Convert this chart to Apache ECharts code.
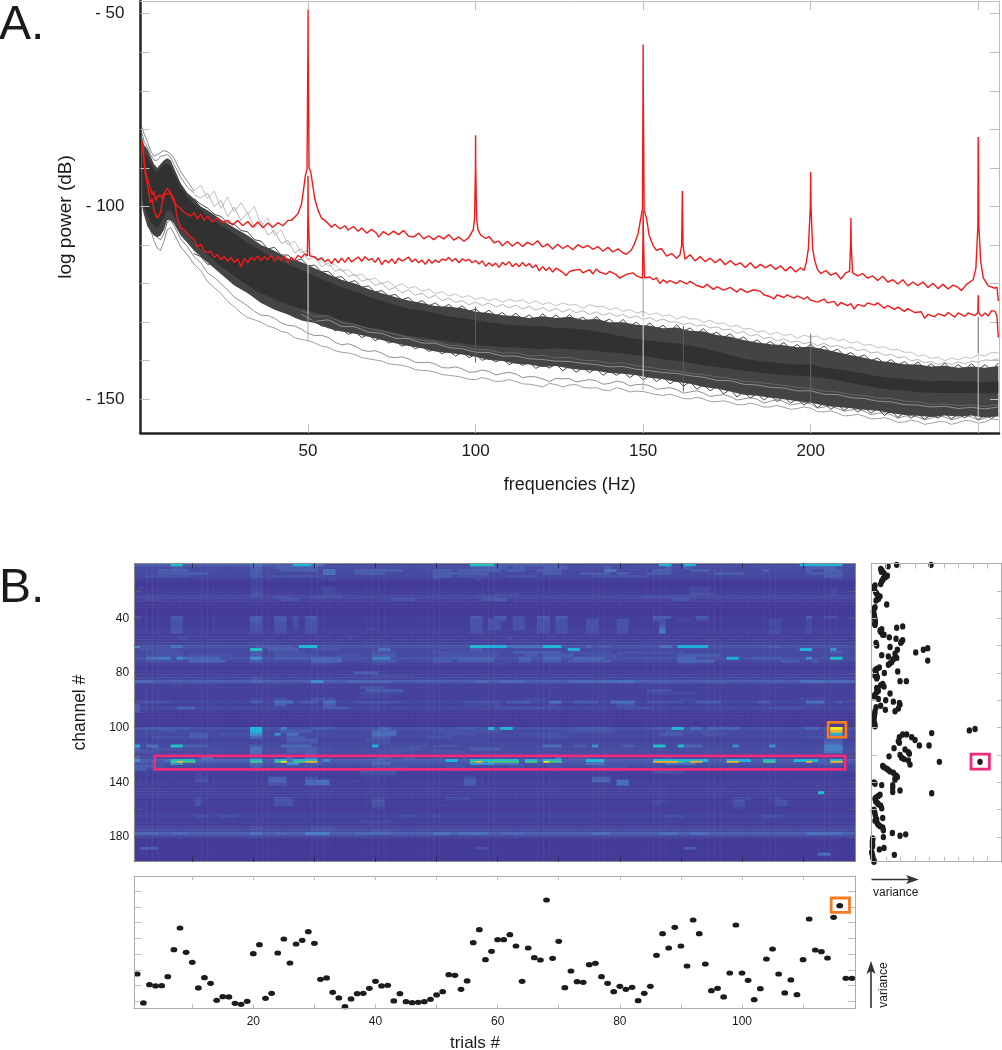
<!DOCTYPE html>
<html><head><meta charset="utf-8"><style>html,body{margin:0;background:#fff}#c{width:1002px;height:1050px}</style>
<script src="https://cdn.jsdelivr.net/npm/echarts@6/dist/echarts.min.js"></script></head><body><div id="c"></div>
<script>
// ---------- panel A data (dB at frequency grid)
const freqGrid=[0.5,1,2,3,4,5,6,7,8,9,10,
12,14,16,18,20,
24,28,32,36,40,44,48,52,56,60,
64,68,72,76,80,84,88,92,96,100,
104,108,112,116,120,124,128,132,136,140,
144,148,152,156,160,164,168,172,176,180,
184,188,192,196,200,204,208,212,216,220,
224,228,232,236,240,244,248,252,256];
const bandHigh=[-82,-84,-85,-87,-89,-90,-89,-88,-87.5,-88,-90,
-94,-96.5,-98,-100,-101,
-103.4,-105.5,-107.5,-110,-111.5,-113.5,-114.4,-116,-117.6,-119,
-120,-121.4,-122.5,-123.5,-124.4,-125,-125.8,-126,-126.4,-127.3,
-127.6,-128.2,-128.4,-128.9,-128.5,-128.9,-128.6,-129.4,-129.2,-130,
-130,-130.7,-130.9,-131.6,-131.4,-132.2,-132.4,-133.3,-133.8,-134.6,
-135.3,-135.7,-136,-136.5,-136.4,-137,-137.8,-138.6,-139.2,-140,
-140.4,-140.9,-141,-141.5,-141.3,-141.8,-141.5,-141.8,-141.4];
const bandLow=[-100,-102,-105,-106.5,-107.5,-108,-107.5,-106,-103.5,-103.5,-104.5,
-107.5,-109.5,-111.5,-113,-114.5,
-117.5,-120.5,-122.5,-125,-126.8,-128,-129.6,-130.2,-131.6,-132.4,
-133,-133.8,-134.6,-135.5,-136.2,-136.8,-137.6,-138,-138.4,-139,
-139.8,-140.1,-140.8,-141,-141.6,-141.4,-142,-142.4,-142.6,-143.2,
-143.4,-143.8,-144.4,-144.8,-145.5,-146,-146.8,-147.3,-148,-148.8,
-149.1,-149.6,-150,-150.5,-150.9,-151.6,-152,-152.3,-152.7,-153,
-153.6,-154.1,-154.3,-154.6,-154.2,-154.5,-154.2,-154.7,-154.4];
const coreHigh=[-84,-86,-87,-89,-90.5,-91,-90,-89,-89,-89.5,-91.5,
-95,-97.5,-99.5,-101,-102.5,
-105,-107,-109.5,-111.5,-113.5,-115,-116.5,-118,-119.5,-121,
-122,-123.5,-124.5,-125.5,-126.5,-127,-127.7,-128.5,-129,-129.5,
-130,-130.5,-130.8,-131,-131,-131.5,-131.6,-132,-132.4,-133,
-133.8,-134.4,-134.8,-135.2,-135.5,-136,-136.8,-137.6,-138.5,-139.5,
-140,-140.4,-140.7,-141,-141,-141.8,-142.2,-142.8,-143.4,-144,
-144.4,-144.7,-145,-145.3,-145.2,-145.4,-145.3,-145.5,-145.4];
const coreLow=[-98,-100,-102,-104,-105,-105.5,-104.5,-102.5,-101,-101,-102.5,
-105.5,-107.5,-109.5,-111,-112.5,
-115.5,-118,-120.5,-122.5,-124,-125.5,-126.5,-127.5,-128.5,-129.5,
-130.5,-131.5,-132,-132.8,-133.5,-134,-134.5,-135,-135.5,-136,
-136.2,-136.5,-136.6,-136.8,-137,-136.8,-137,-137.2,-137.5,-137.8,
-138.1,-138.6,-139,-139.6,-140,-140.6,-141.2,-141.6,-142,-142.6,
-143,-143.4,-143.7,-143.9,-144,-144.5,-145,-145.8,-146.4,-147.1,
-147.5,-147.8,-148.1,-148.3,-148.4,-148.4,-148.4,-148.5,-148.4];
// low-frequency ends of the outlying traces (0.5 - 16 Hz)
const topStart1=[-79.5,-81,-83,-85.5,-87,-86.5,-86,-85.5,-85.8,-86.4,-87.5,-91,-93.5,-96];
const topStart2=[-81,-83,-84.5,-86.5,-88,-88,-87,-86.8,-86.5,-87.2,-89,-92.5,-95,-96.5];
const lowStart1=[-88,-95,-101,-106,-108.8,-110.8,-111.4,-109,-106,-105.5,-107,-110.5,-112.5,-115];
const lowStart2=[-85,-91,-97,-102,-106,-108,-108.6,-107,-104,-103.6,-105,-108.4,-110.4,-113];
// outlying traces and band edges every 2 Hz from 16 to 256 Hz
const fineFreq=[16,18,20,22,24,26,28,30,32,34,36,38,40,42,44,46,48,50,52,54,56,58,60,62,64,66,68,70,72,74,76,78,80,82,84,86,88,90,92,94,96,98,100,102,104,106,108,110,112,114,116,118,120,122,124,126,128,130,132,134,136,138,140,142,144,146,148,150,152,154,156,158,160,162,164,166,168,170,172,174,176,178,180,182,184,186,188,190,192,194,196,198,200,202,204,206,208,210,212,214,216,218,220,222,224,226,228,230,232,234,236,238,240,242,244,246,248,250,252,254,256];
const topFine1=[-96,-94.5,-98,-96,-100.5,-97.5,-101.5,-99,-102,-100,-105,-103,-107.5,-106,-110,-109,-112,-111.4,-113.5,-113.6,-115.5,-115,-116.8,-116.4,-118,-117.6,-119,-118.6,-120,-119.4,-120.8,-120,-121.2,-120.8,-122,-121.4,-122.6,-122.1,-123.2,-122.7,-123.6,-123.1,-124.1,-123.6,-124.4,-123.9,-124.8,-124.1,-124.6,-124.2,-125.2,-124.5,-125.4,-124.9,-125.8,-125,-125.6,-125.4,-126.4,-125.5,-126,-125.9,-126.8,-126.3,-127.2,-126.7,-127.6,-127.2,-128.1,-127.6,-128.4,-128.1,-129.2,-128.5,-129.2,-129.1,-130,-129.5,-130.4,-130.2,-131.2,-130.8,-131.8,-131.6,-132.6,-132.2,-133.2,-132.6,-133.4,-133.2,-134.2,-133.4,-133.9,-133.6,-134.6,-134,-134.8,-134.5,-135.4,-135.1,-136,-135.8,-136.6,-136.4,-137.2,-137.1,-137.8,-137.8,-138.8,-138.5,-139.4,-139.1,-140,-139.3,-139.8,-139,-139.4,-138.4,-138.8,-137.8,-138];
const topFine2=[-97,-97.8,-96.5,-100,-98.4,-102.6,-100.2,-103.6,-101.6,-105.4,-103.8,-107.4,-106.2,-109.6,-108.8,-112,-111,-113.8,-113,-115.6,-114.6,-116.8,-116.2,-118.2,-117.6,-119.4,-118.8,-120.5,-119.8,-121.6,-121,-122.4,-121.6,-123,-122.5,-123.8,-123,-124.4,-123.8,-124.9,-124.4,-125.5,-124.8,-125.7,-125,-126.1,-125.4,-126.3,-125.6,-126.6,-125.9,-126.9,-126.2,-127.2,-126.4,-127.4,-126.6,-127.6,-127,-128,-127.3,-128.2,-127.6,-128.5,-128,-128.9,-128.4,-129.3,-128.8,-129.7,-129.2,-130,-129.9,-130.6,-130.2,-131,-130.7,-131.5,-131.2,-132,-131.8,-132.9,-132.4,-133.6,-133.2,-134.2,-133.9,-134.9,-134.3,-135.2,-134.9,-135.6,-135.2,-136.1,-135.5,-136.4,-136,-136.8,-136.5,-137.4,-137,-138,-137.7,-138.6,-138.4,-139.2,-139,-140,-139.7,-140.5,-140.2,-141,-140.4,-141,-140.3,-140.8,-140.1,-140.4,-139.8,-139.9,-139.5];
const edgeHigh=[-98,-99.4,-100.4,-102,-102.6,-104.2,-104.6,-106.2,-106.6,-108.6,-109,-111,-110.6,-112.6,-112.6,-114.2,-113.6,-115.4,-115.2,-117,-116.8,-118.4,-118.2,-119.8,-119.2,-121,-120.6,-122.2,-121.8,-123.2,-122.8,-124.2,-123.6,-125.2,-124.4,-125.8,-125,-126.4,-125.4,-126.8,-125.8,-127.2,-126.6,-128,-126.9,-128.4,-127.5,-129,-127.7,-129.2,-128.1,-129.6,-127.8,-129.4,-128.1,-129.8,-128,-129.6,-128.7,-130.2,-128.6,-130,-129.2,-130.8,-129.3,-131,-130,-131.6,-130.2,-131.8,-130.8,-132.4,-130.7,-132.4,-131.5,-133,-131.7,-133.4,-132.6,-134,-133,-134.8,-133.8,-135.6,-134.6,-136,-135,-136.4,-135.3,-136.9,-135.8,-137.2,-135.7,-137.4,-136.2,-137.8,-137,-138.6,-137.9,-139.2,-138.5,-140,-139.3,-140.8,-139.7,-141.2,-140.2,-141.7,-140.3,-142,-140.8,-142.2,-140.6,-142.4,-141,-142.2,-140.8,-142.4,-141,-142.5,-140.6];
const edgeLow=[-112.2,-113,-115,-114.8,-116.8,-117,-119.8,-120,-122,-122.6,-124.2,-125,-126,-126.8,-127.2,-128.8,-129,-129.8,-129.6,-131,-131,-132.2,-131.8,-133.2,-132.4,-134,-133.2,-134.8,-134,-135.4,-134.9,-136.2,-135.6,-136.9,-136.2,-137.6,-137,-138.2,-137.4,-138.8,-137.8,-139.2,-138.4,-139.9,-139.2,-140.3,-139.5,-141,-140.2,-141.2,-140.4,-142,-141,-141.9,-140.8,-142.6,-141.4,-143,-141.8,-143.1,-142,-143.8,-142.6,-143.8,-142.8,-144.4,-143.2,-145,-143.8,-145.4,-144.2,-146,-144.9,-146.6,-145.4,-147.4,-146.2,-147.8,-146.7,-148.6,-147.4,-149.4,-148.1,-149.7,-148.5,-150.2,-149,-150.6,-149.4,-151,-149.9,-151.5,-150.3,-152.2,-151,-152.6,-151.4,-152.9,-151.7,-153.3,-152.1,-153.6,-152.4,-154.2,-153,-154.7,-153.5,-154.9,-153.7,-155.2,-154,-154.9,-153.6,-155.1,-153.9,-154.8,-153.6,-155.3,-154.1,-155,-153.8];
const lowFine1=[-115,-116.6,-119.5,-121,-122.5,-124.6,-126,-127.6,-128.8,-129.4,-130,-131,-131.5,-132.4,-132.8,-134,-134.5,-134.8,-135.4,-136.2,-136.5,-137.4,-137.8,-138,-138.4,-139.2,-139.5,-139.8,-140.1,-140.8,-141,-141.2,-141.6,-142.3,-142.5,-142.6,-143,-143.6,-143.8,-144,-144.3,-144.8,-144.9,-144.4,-144.8,-145.4,-145.3,-144.9,-145.4,-146,-146.1,-146.4,-146.8,-145.9,-146.2,-146.8,-146.3,-146.2,-146.9,-147.1,-147,-147.6,-147.8,-147,-147.4,-148.1,-147.9,-148,-148.4,-148.8,-149,-148.7,-149.2,-149.8,-149.9,-149.5,-149.9,-150.6,-150.6,-150.4,-150.8,-151.4,-151.4,-151,-151.4,-152,-152,-151.6,-152.1,-152.6,-152.4,-152,-152.3,-153.2,-153.3,-153,-153.6,-154.3,-154.2,-153.9,-154.4,-155.1,-155,-154.8,-155.2,-156,-155.9,-155.4,-155.8,-156.5,-156.2,-155.8,-155.8,-156.5,-156.1,-155.5,-155.6,-156.2,-155.9,-155.1,-155.3];
const lowFine2=[-113,-114.6,-117.2,-118.4,-120,-121.6,-123.5,-124.6,-125.8,-127.2,-128.2,-128.3,-129,-130.2,-130.8,-131,-131.8,-132.9,-133.5,-133.4,-134,-135.2,-135.9,-135.6,-136.2,-137.2,-137.6,-137.4,-138,-139,-139.2,-139,-139.5,-140.4,-140.5,-140.4,-140.9,-141.8,-141.9,-141.6,-142.1,-143,-142.9,-142.4,-142.8,-143.7,-143.3,-143,-143.4,-144.4,-144.1,-144.2,-144.7,-145.4,-144.6,-144.7,-144.6,-145.5,-145.2,-144.9,-145.2,-146.1,-145.9,-145.3,-145.6,-146.5,-146.2,-146.1,-146.5,-147.4,-147.2,-147,-147.5,-148.4,-148.1,-147.8,-148.4,-149.3,-149,-148.8,-149.3,-150.2,-149.9,-149.6,-150,-151,-150.5,-150.1,-150.6,-151.5,-151.2,-150.8,-151.2,-152.3,-152,-151.7,-152.4,-153.1,-152.8,-152.5,-153.1,-154,-153.6,-153.5,-154,-154.9,-154.4,-154.2,-154.6,-155.3,-154.9,-154.3,-154.6,-155.3,-154.9,-154.2,-154.6,-155.4,-154.9,-154.1,-154.4];
const speckle1=[-128,-129.8,-129.4,-131.1,
-131.2,-132.6,-132.9,-134.2,-134.3,-135.4,-135.5,-136.6,-136.9,-137.8,
-137.9,-138.8,-138.8,-139.5,-139.7,-140.1,-140.2,-140.7,-141,-141.6,
-141.5,-142.2,-142.6,-143.1,-143.3,-143.9,-144.3,-145.1,-145.2,-146.1,
-146.3,-146.9,-147.1,-147.8,-147.8,-148.7,-148.8,-149.6,-149.8,-150.5,
-150.7,-151.4,-151.5,-152,-151.8,-152.4,-152.1,-152.5,-152];
const speckle2=[-126.9,-128.6,-128.3,-130.1,
-130.6,-131.6,-132.2,-133.1,-134,-134.7,-135.1,-136,-136.2,-137.1,
-137.2,-138,-137.9,-138.8,-138.6,-139.3,-139.1,-139.9,-140,-140.7,
-140.6,-141.3,-141.7,-142.3,-142.6,-143.3,-143.6,-144.2,-144.6,-145.3,
-145.6,-146,-146.4,-146.9,-147.2,-147.9,-148.1,-148.8,-149,-149.7,
-149.8,-150.5,-150.7,-151.3,-151.2,-151.6,-151.5,-151.8,-151.4];
const notches=[[50,-114.8,-127.7,'#e4e4e4'],[50,-127.7,-134.6,'#aaaaaa'],[100,-126,-140.5,'#5c5c5c'],
[150,-118.6,-128.6,'#999999'],[150,-128.6,-144.1,'#dddddd'],[150,-144.1,-147.6,'#aaaaaa'],
[162,-131,-148,'#5c5c5c'],[200,-133,-151,'#666666'],[250,-128.6,-138,'#666666'],[250,-138,-154.5,'#cccccc']];
const redUpper=[[0.5,-83],[1,-87],[1.5,-91],[2,-92.5],[2.5,-94],[3,-93.5],[3.5,-97],[4,-96],[4.5,-98.5],[5,-97.5],[5.5,-98],[6,-97],[6.5,-98],[7,-96.5],[7.5,-97],[8,-96.8],[8.5,-97.2],[9,-96.5],[9.5,-98],[10,-97.5],[11,-100],[12,-100.5],[13,-101.5],[14,-102],[15,-102.5],[16,-101.6],[17,-103.3],[18,-102],[19,-103.6],[20,-102.6],[21.5,-104],[23,-103],[24.5,-104.2],[26,-103.6],[27.5,-104.8],[29,-103.6],[30.5,-105],[32,-103.9],[33.5,-105.4],[35,-104],[36.5,-105.5],[38,-104.3],[39.5,-105.4],[41,-104.2],[42.5,-105],[44,-103.6],[45,-103.6],[46,-102.8],[47,-101.8],[48,-99.5],[48.6,-96],[49.2,-92],[49.7,-90.3],[49.95,-60],[50,-49],[50.05,-60],[50.3,-90],[50.8,-91],[51.5,-95],[52,-98],[53,-101],[54,-103],[55,-103.6],[56,-104.4],[57,-105.4],[58,-104.6],[59.5,-105.8],[61,-105],[62,-106.1],[63.5,-105.2],[65,-106.4],[66,-105.6],[67.5,-106.9],[69,-105.9],[70.5,-107],[71,-107.9],[72.5,-106.5],[74,-107.4],[75.5,-106.4],[77,-107.3],[78.5,-106.2],[80,-107.7],[81.5,-107.9],[83,-106.9],[84.5,-108.4],[86,-107.6],[87.5,-108.6],[89,-107.6],[90.5,-108.4],[92,-107.3],[93.5,-108.7],[95,-107.9],[96.5,-109],[98,-108],[98.5,-107.5],[99.3,-106],[99.7,-103],[99.95,-90],[100,-81.5],[100.05,-90],[100.3,-103],[100.7,-106],[101.5,-107.4],[103,-108.3],[104,-107.8],[105.5,-109.4],[107,-109],[108,-110.2],[109.5,-109],[111,-110.3],[112.5,-109.2],[114,-110.4],[115.5,-109.3],[117,-110],[118.5,-108.9],[120,-110.5],[121.5,-109.7],[123,-111],[124.5,-109.8],[126,-110.9],[127.5,-110.1],[129,-111.2],[130.5,-109.9],[132,-110.7],[133.5,-110.1],[135,-111.1],[136.5,-110.4],[138,-111.6],[139.5,-110.6],[141,-111.8],[142.5,-111],[144,-112],[145,-112.4],[146.5,-111.3],[147.5,-109.5],[148.5,-107],[149.3,-103],[149.8,-100.6],[149.95,-70],[150,-58],[150.05,-70],[150.3,-101],[151,-103],[151.8,-107.5],[153,-110.2],[154,-111.4],[155.5,-110.9],[157,-112.9],[158.5,-112.2],[160,-113.4],[161,-112.5],[161.5,-110],[161.7,-96],[161.9,-110],[162.5,-113.7],[164,-112.5],[165.5,-114.1],[167,-113],[168.5,-114.3],[170,-113.4],[171.5,-114.6],[173,-113.6],[174.5,-115.1],[176,-114],[177.5,-115.2],[179,-114.6],[180.5,-115.8],[182,-114.6],[183.5,-116],[185,-115],[186.5,-115.9],[188,-115.1],[189.5,-116.3],[191,-115.4],[192.5,-116.7],[194,-115.6],[195.5,-117],[197,-115.9],[198,-116.6],[198.7,-114.5],[199.3,-111],[199.9,-100],[200,-91],[200.1,-100],[200.6,-111],[201.2,-114],[202,-116.3],[203,-117.4],[204.5,-116.6],[206,-117.8],[207.5,-117.2],[209,-118.8],[210.5,-117.2],[211.6,-116.8],[211.9,-110],[212,-103],[212.1,-110],[212.5,-117.2],[214,-118],[215.5,-117.4],[217,-118.6],[218.5,-118],[220,-119.2],[221.5,-118.1],[223,-119.6],[224.5,-119],[226,-120.1],[227.5,-119],[229,-120.6],[230.5,-119.6],[232,-120.5],[233.5,-119.6],[235,-121],[236.5,-119.9],[238,-121.3],[239.5,-120.2],[241,-121.4],[242.5,-120.4],[244,-121],[245,-121.8],[246.5,-120.2],[248.5,-119],[249.3,-116],[249.9,-105],[250,-82],[250.2,-105],[250.7,-114],[251.5,-118.5],[253,-120.6],[255,-121.2],[255.6,-120.9],[256,-124.5]];
const redLower=[[0.5,-84],[1,-88],[1.5,-92],[2,-94],[2.5,-96.5],[3,-99],[3.5,-98],[4,-101],[4.5,-102],[5,-103],[5.5,-103.5],[6,-101.5],[6.5,-99],[7,-97.5],[7.5,-96],[8,-95.3],[8.5,-95.8],[9,-96.5],[9.5,-96.3],[10,-98],[11,-103],[12,-105.5],[13,-106],[14,-107],[15,-108],[16,-108.5],[17,-110.5],[18,-109.8],[19,-111.5],[20,-112],[21,-111.6],[22,-113.2],[23,-112.5],[24,-113.8],[25,-113],[26,-114.2],[27,-113.2],[28,-114.5],[29,-113.6],[30,-115.6],[31,-113.5],[32,-114.6],[33,-113.2],[34,-113.9],[35,-112.8],[36,-114],[37,-113],[38,-113.8],[39,-112.6],[40,-114.2],[41,-113],[42,-113.9],[43,-112.9],[44,-114.5],[45,-113.2],[46,-114],[47,-112.7],[48,-113.3],[49,-112.3],[49.8,-112.8],[49.95,-102],[50,-92],[50.05,-102],[50.5,-112.8],[52,-113.1],[53,-113.9],[54,-113.3],[55,-114.3],[56,-113.7],[57,-114.8],[58,-113.5],[59,-114.6],[60,-113.4],[61,-114.5],[62,-113.2],[63,-114.4],[64,-113.7],[65,-113.1],[66,-114.2],[67,-113],[68,-113.9],[69,-113.5],[70,-114.5],[71,-113.3],[72,-115.1],[73,-113.9],[74,-114.6],[75,-113.6],[76,-114.8],[77,-113.4],[78,-114.1],[79,-113.7],[80,-113.1],[81,-114.4],[82,-113.6],[83,-114.6],[84,-113.9],[85,-115],[86,-113.7],[87,-114.7],[88,-113.9],[89,-114.5],[90,-113.6],[91,-114],[92,-113.2],[93,-114.2],[94,-113.5],[95,-114.6],[96,-113.6],[97,-114.1],[98,-113.7],[99,-114.6],[100,-114],[101,-114.9],[102,-114.1],[103,-115.5],[104,-114.6],[105,-115.4],[106,-114.7],[107,-115.8],[108,-114.5],[109,-115.2],[110,-114.3],[111,-115.6],[112,-114.8],[113,-115.6],[114,-114.5],[115,-115.5],[116,-114.8],[117,-115.9],[118,-115.1],[119,-116.7],[120,-115.6],[121,-116.6],[122,-115.8],[123,-117],[124,-116],[125,-116.5],[126,-117.1],[127,-117.9],[128,-116.9],[129,-116.6],[131,-116.3],[132,-117.2],[134,-116.4],[135,-117.5],[136,-116.2],[137,-117],[139,-117.6],[140,-116.8],[142,-117.7],[143,-118.6],[145,-117.6],[147,-117.2],[148,-118],[149,-118.3],[149.8,-118.6],[149.95,-108],[150,-101],[150.1,-108],[150.4,-118.5],[152,-118.3],[153,-119],[154,-118.5],[155,-120],[156,-119],[157,-119.8],[158,-119.2],[160,-120],[161,-119.2],[163,-120.1],[164,-119.4],[166,-120.5],[168,-121],[169,-120.2],[171,-121.5],[172,-120.8],[174,-121.7],[176,-121],[178,-122.2],[179,-121.3],[181,-122.3],[183,-121.6],[185,-122],[186,-122.9],[188,-123.4],[189,-124],[190,-122.9],[192,-123.6],[193,-122.9],[195,-123.8],[196,-123.2],[198,-124],[199,-123.4],[200,-124.3],[202,-124.8],[204,-124],[205,-125],[207,-124.6],[208,-125.8],[209,-124.9],[211,-125.7],[212,-125.2],[213,-126.6],[214,-125.4],[216,-125.9],[217,-125],[219,-125.6],[220,-125],[222,-126.4],[223,-125.7],[225,-126.7],[226,-126.1],[228,-127.2],[229,-126.5],[231,-127.5],[233,-127.3],[234,-129],[235,-128],[237,-128.6],[238,-127.8],[240,-128.4],[241,-127.5],[243,-128.7],[244,-127.6],[246,-128.5],[247,-127.6],[249,-128.3],[249.9,-127.5],[250,-123],[250.1,-127.5],[251,-128.5],[252,-127.6],[253,-128.4],[254,-127],[255,-127.2],[255.6,-128.5],[256,-134]];
const freqTicks=[50,100,150,200,250];
const powerTicks=[-150,-140,-130,-120,-110,-100,-90,-80,-70,-60,-50];
const powerLabels=[-150,-100,-50];

// ---------- panel B heat map: one row per 3 px, "base|from-to:level|..."
const trials=118;
const heatRows=[
'1|1-6:2|7-8:6|9-19:2|20-21:3|22-26:2|27-29:5|30-31:3|56-59:6|60-70:2|87-88:5|91-92:5|110-116:5',
'1|7-8:2|20-21:2|24-30:2|56-61:2|63-64:2|68-71:2|78:2|88:2|91:2|111-115:2',
'1|5-9:2|20-21:2|25-30:2|32-33:3|37-44:2|50-52:2|54-60:2|62-64:2|67-70:2|78-79:3|86-88:2|92-94:2|104:2|111:2|114-116:2',
'1|5-12:2|20-21:2|32-33:3|37-41:2|50-58:2|68-70:2|74-78:2|80-81:2|85-88:2|96-100:2|111-116:2',
'1|3-9:1.5|20-21:2|23-31:1.5|50-52:2|54-58:1.5|62-66:1.5|76-84:1.5|114-116:2',
'0.5|20-21:1|33:1|50:1|57:1|115-116:1',
'0|20-21:0.5',
'0|20-21:0.5',
'0.3|20-21:1|32-33:1|92-94:1',
'0.3|20-21:1|32-33:1|92-94:1|115:1',
'0.5|20-21:1.5|32-34:1|60-63:1|92-95:1.5|115:1',
'1|20-21:1.5|24-26:1.5|30-34:1.5|50-52:1|57-60:1.5|84-92:1.5',
'0.5|3-4:1|25-27:1.5|43-46:1.5|58-60:1.5|60-61:2|89-91:1.5',
'0|20-21:0.5',
'0',
'0',
'0',
'0',
'0.3|1:1.5|7-8:2|20-21:2|24-25:2|27:1.5|29-30:2|56-57:2|60-61:2|63-64:1.5|67-68:2|70-71:2|86-88:2|93-94:2|111:2|114-115:1.5',
'0.3|7-8:1.5|20-21:2|24-25:2|27:1.5|29-30:1.5|56-57:1.5|59-61:1.5|63-64:1.5|67-68:1.5|70-71:1.5|75-76:1.5|80-81:1.5|86-87:1.5|90-91:1|93-94:1|105-106:1|111:1',
'0.3|7-8:1.5|20-21:1.5|24-25:1.5|27:1|29-30:1.5|56-57:1.5|59-60:1.5|63-64:1.5|67-68:1.5|70-71:1.5|75-76:1.5|80-81:1.5|87:1.5|105-106:1|111:1',
'0.3|7-8:1.5|20-21:1.5|24-25:1.5|27:1|29-30:1.5|56-57:1.5|59-60:1.5|63-64:1.5|67-68:1.5|70-71:1.5|75-76:1.5|80-81:1.5|87:2|105-106:1|111:1',
'0.5|7-8:1.5|20-21:1.5|24-25:1.5|27:1|29-30:1.5|39-40:1|56-57:1.5|59-60:1.5|63-64:1.5|67-68:1.5|70-71:1.5|75-76:1.5|80-81:1.5|87:3|105-106:1|111:1',
'0.5|7-8:2|20-21:1.5|24-25:1.5|29-30:1.5|56-57:1.5|67-68:1.5|70-71:1.5|75-76:1.5|80-81:1.5|87:3.5|105-106:1.5|111:1.5|114:1',
'0.3',
'0.3|8-9:1|36:1|62:1',
'0.5',
'0.7|20-21:1',
'1.5|1:4|7-8:3|21-26:2|28-30:5.5|56-60:5.5|59-61:5|62-67:3|68-70:5.5|75:2.5|77-78:2|87-88:3|90-94:5|105-106:2',
'1|2-6:1.5|7:1.5|20-21:6|23-27:2|30-34:1.5|41-42:3|56-57:2|72-73:5|110-111:5|115:4',
'1|4-8:1.5|20-21:2|24-28:1.5|40-43:1.5|50-60:1.5|63-70:2|72-78:1.5|80-90:1.5|115-116:2',
'1|3-8:1.5|10-16:1.5|20-21:2|24-30:1.5|34-37:1.5|40-43:2|51-60:1.5|65-66:2|68-72:2|75-80:1.5|90-96:2',
'1.5|3-4:3|5-6:3.5|8:4|9:3|10-14:2.5|20-21:4|24-29:2|30-34:2.5|40-42:3.5|50-53:2|54-59:2.5|64-65:2.5|68-70:2.5|73-77:2.5|90-92:2.5|98-99:5|102-106:2|111:4|115-116:6',
'1|3-8:1.5|10-15:2.5|20-21:2|30-34:2.5|40-43:2|50-52:2|54-59:2|64-65:2|68-70:2|72-78:2|90-95:2.5|107-109:2|112:2',
'0.5|30-33:1|40-42:1|60-61:1|90-92:1',
'0.3',
'0.3',
'0.3|37-40:2',
'0.5|40-46:1',
'0.8|20-21:1.5',
'2|1-3:2.5|20-21:2.5|30-31:4|36-42:2.5|57-58:2.5|61-64:2.5|72-79:2.5|80-82:3|110-113:3|114-118:2.5',
'0.5|7-8:1',
'0.5|38-41:1.5',
'0.5|39-44:2|85-88:1.5',
'0.5|38-44:1|85-92:1',
'0.4|38-42:0.8',
'0.5|20-21:1|24-25:1.5|30-33:1.5|65-68:1|90-92:1|110-113:1',
'1|2-6:1.5|20-21:2|24-26:3|28-30:2|32-33:3|37-44:1.5|55-60:1.5|62-65:2|69-70:3|73-76:2|79-82:3|85-90:1.5|93-96:2|103-104:2|111-113:3|116:2',
'0.5|1:2|24-25:2|32-33:2|55-60:1|69:1|80-82:1.5|111-112:1',
'1|1:2|8-10:2.5|32-35:2|60-70:1.5|80-85:1.5|105-110:1.5',
'0.3|1:2',
'0',
'0',
'0',
'0',
'0',
'1.5|1-6:2|7-9:2|20-21:5.5|25:3.5|30-33:2|41-42:2.5|54-56:2|59:5.5|60:2|61-62:5.5|73-78:2|86-88:2|89-90:5.5|92-93:3|95-99:2.5|111-112:2.5|114:2|115-116:9',
'1|5-7:1.5|20-21:5|25-29:2|40-43:2.5|50-60:1.5|72-79:1.5|88-95:1.5|115-116:8',
'1|10-12:2|15-19:1.5|20-21:4|24:4|26-27:3|40-43:3|52-56:1.5|64-70:1.5|87-90:2|94-97:1.5|115-116:5',
'1|4-8:1.5|10-12:2|20-21:2.5|26-28:2|40-42:2|49-52:1.5|68-71:1.5|111-113:1.5|115-116:2',
'0.7|26-30:2|39-42:1.5|52-58:1|114-116:2',
'0.8|26-30:1.5|40-42:1.5|114-116:2.5',
'1|1:5|3-4:3|7-8:6|9-12:2|20-21:2|25-29:2.5|40:5|46-48:1.5|50-53:1.5|68-70:3|73-74:2|76:4|81-82:2|86-87:6|90:6|91-93:2.5|99:4|105:4|114-116:3.5',
'1|1:2|4-8:1.5|20-21:3|26-30:2|43-47:1.5|56-60:2|114-116:3.5',
'1|1-4:1.5|20-21:2.5|26-30:2|41-46:1.5|50-54:1.5|114-116:3',
'0.5|20-21:2|29-30:2',
'1|1:2|12-13:3|20-21:2|26:3|29-30:3|41-42:2|45-46:2|70:3|72-75:1.5|88:1.5',
'2|1:4|6:3|7-10:6|11-19:2.5|20-21:5|24-25:5.5|26:3|27-30:5.5|32:4|40-41:2.5|52-53:5|56-63:6|65-66:5.5|67:3|68-70:5.5|75-77:5.5|86-94:5.5|98-101:5|104-105:5.5|109-112:5.5|115-116:5.5',
'1.5|7-8:4|20-21:2.5|26-27:4|30-31:2|40-42:2.5|56-59:4|60-63:3|75-77:3|88-92:3|113-116:2',
'1|1-3:2|4-5:1.5|20-21:2|24-30:1.5|40-45:1.5|52-54:1.5|62-64:1.5|69-70:1.5|76-81:1.5',
'1|1-2:2|20-21:2.5|24-25:1.5|29-31:2|40-45:2|50-56:2|60-66:1.5|69-70:2.5|77-80:2|86-89:2',
'0.5|38-43:1.5|86-90:1.5',
'0.3|11:1|38-43:1',
'0.3|11-12:1|23-25:2|29-30:1.5|55-56:1.5|76-78:2',
'0.5|11-12:1.5|23-25:2.5|29-30:2.5|31-32:3|37:1|55-56:2|76-78:2.5|80-81:3',
'0.5|23-25:1.5|29-32:2.5|55-56:2|80-81:3',
'0.4',
'0.5',
'0.5|113:6',
'0.5',
'0.3|11:1|24-26:1.5|40-41:1|52-55:1|99-101:1|106:1',
'0.3|11:1.5|24-26:1.5|40-41:1.5|86-87:1|99-100:1.5|106-107:1.5',
'0.5|11:1.5|24-26:1.5|40-41:1.5|86:1|99-100:1.5|106-107:1.5',
'0.3|40-41:1|99-100:1',
'0.3',
'0.5',
'0.8|11-12:1.5|15-17:1.5|50:1.5|45-46:1.5|88-90:1.5|104-106:1.5',
'0.5',
'0.5|38-42:1',
'0.4',
'0.8|20-21:1.5|30-33:1.5|35-37:1',
'1|20-21:1.5|30-33:1.5|40-42:1.5',
'2|1-4:2.5|7-9:2.5|20-21:3|24-25:2.5|29-32:3.5|37-42:2.5|50-52:3|54-58:3|61-64:2.5|76-78:3|87-89:3|92-94:3|111-113:3|114-116:3',
'0.8|20-21:1',
'0',
'0',
'0',
'0.2|2-4:2|57-58:1.5|91-92:2',
'0',
'0.2|113-114:3',
'0',
'0'
];
const heatColors=['#443a98','#464aa1','#4a5cad','#4a70bb','#3d8dd0','#1fb1de','#1fc0c4','#4fc585','#efb52a','#f8e51e'];
const hotChannel=145;
const hotDashes=[[7,7,7],[8,8,8],[9,10,7],[20,21,7],[24,24,7],[25,25,9],[27,28,7],[29,30,8],[56,56,7],[57,57,8],[59,63,7],[65,66,7],[68,68,9],[69,70,7],[86,87,8],[88,89,8],[90,90,7],[92,93,8],[98,99,8],[104,105,7],[111,111,8],[115,116,8]];
const channelTicks=[20,40,60,80,100,120,140,160,180,200];
const channelLabelTicks=[40,80,120,160,200];
const channelLabelText=['40','80','100','140','180'];
const trialTicks=[10,20,30,40,50,60,70,80,90,100,110];
const trialLabels=[20,40,60,80,100];
const heatBoxes=[[3.85,116.9,140.6,150.5,'#ee2a7b'],[114.1,117,116.2,127,'#f47b20']];

// ---------- panel B side scatter: [channel, variance]
const channelVariance=[[1,17.8],[1,7.5],[2,4.9],[4,2.7],[5,3.1],[6,2.9],[7,3.7],[9,4.7],[10,4.1],[11,3.5],[12,3.3],[13,3],[15,2.7],[16,1],[17,.8],[18,.7],[19,.8],[21,1.2],[22,1.5],[23,1.7],[24,2.5],[26,2],[27,1.3],[30,4.5],[32,1],[33,.7],[34,.6],[35,.5],[37,.7],[38,.8],[39,.7],[40,.9],[41,1],[43,1.1],[44,.9],[45,1],[46,9.3],[47,7.5],[48,3],[49,2.5],[50,2.7],[52,3.3],[52,3.7],[54,5.3],[55,7.3],[56,9.3],[57,9],[58,8.7],[58,1.3],[60,1.5],[61,5.5],[62,16.8],[63,7.7],[63,15.5],[65,13.2],[66,7],[67,3],[68,5],[69,7.5],[70,6.5],[71,16.8],[72,6],[73,5.5],[74,5],[76,2.3],[77,1.5],[78,1],[79,7.8],[80,3.8],[80,1.3],[82,1],[83,1.7],[84,1.5],[86,8.5],[86,10.4],[88,3.3],[89,2.7],[90,3.7],[91,1.5],[93,2],[94,1.5],[95,5.5],[96,1],[97,.7],[99,2],[100,4.2],[101,6.5],[102,8.3],[103,8.5],[104,2.7],[105,1.3],[106,8],[107,4.1],[108,7],[108,1],[110,.9],[111,.8],[112,.7],[113,.7],[114,.6],[116,.7],[117,.9],[118,.9],[119,1],[121,31],[122,29.3],[124,18],[125,10.5],[125,9.3],[127,12],[127,8.3],[129,13],[130,8],[131,8.3],[133,17.2],[133,14.3],[135,6.7],[136,10],[138,11],[139,11.3],[140,8.5],[141,5.2],[142,9],[143,9.7],[144,11],[145,32.5],[145,20.3],[147,11.5],[148,3.3],[149,3.7],[150,4.5],[151,5],[152,5.5],[153,6.5],[155,7.3],[156,7.7],[157,7],[158,7],[160,.7],[161,1],[162,3],[162,6.3],[164,6.3],[166,8.5],[167,6.3],[168,18],[169,2.5],[170,2],[171,1.3],[172,1],[174,1.2],[175,1.7],[176,2],[177,2.7],[179,3],[180,.7],[181,.5],[182,.9],[184,1.1],[186,3.3],[187,1.5],[188,1],[190,1.7],[191,2],[192,2.5],[193,3.3],[195,3.5],[197,6.2],[198,10.2],[199,8.5],[200,3.5],[201,.3],[202,.3],[203,.2],[205,.2],[206,.3],[207,.2],[208,3.7],[209,2.3],[211,0],[212,.1],[213,6.8],[214,.3],[215,.3],[217,.7],[218,.7]];
const sideVarTicks=[4.3,8.5,13,17.3,21.7,26.1,30.5,34.8];
const sideBox=[[29.8,35.3,139.3,150.3,'#ee2a7b']];

// ---------- panel B bottom scatter: variance per trial 1..118
const trialVariance=[10.3,1.6,7.1,6.7,6.8,9.5,17.6,24.1,16.8,13.8,
6.1,9.2,7.5,2.4,3.5,3.4,1.5,1.2,2.1,16.4,
19.1,3,4.5,16.6,20.8,13.6,19.3,20.4,23,19.5,
8.7,9.1,4.8,3.1,.5,2.8,4.4,4.5,6,8.1,
6.7,6.9,2.2,4.4,2,1.7,1.8,2,2.7,4,
5,10.1,9.9,5.7,8.2,19.7,23.6,14.6,17.1,20.6,
20.6,22.1,18.7,8.1,18.1,15.2,14.5,32.5,15,20.1,
6.2,11.2,8,7.8,13.1,13.5,9.5,7.5,5,6.6,
5.7,6.3,2.3,4.5,6.6,15.9,22.4,18.1,24.3,18.7,
12.7,26.5,22.4,13.3,5.3,6,3.4,10.6,25,10.6,
8.4,2.6,5.9,14.8,17.8,10.3,4.6,8.5,4.1,14.6,
26.8,17.5,17,15.1,27.3,30.8,9,9];
const bottomVarTicks=[2.2,6.9,11.5,16.3,21,25.7,30.3,35];
const bottomBox=[[114.6,117.6,28.8,33.1,'#f47b20']];

// ---------- build
const FONT='"Liberation Sans",Arial,sans-serif';
const heatData=[];
heatRows.forEach((spec,r)=>{
  const parts=spec.split('|'), vals=new Array(trials).fill(parseFloat(parts[0]));
  parts.slice(1).forEach(p=>{const [rng,l]=p.split(':'),[a,b]=rng.split('-').map(Number);
    for(let t=a;t<=(b||a);t++)vals[t-1]=parseFloat(l);});
  vals.forEach((v,i)=>heatData.push([i,r,v]));
});
const cats=n=>Array.from({length:n},(_,i)=>i);

function axis(grid,pos,min,max,ticks,o={}){
  return Object.assign({type:'value',gridIndex:grid,position:pos,min,max,scale:true,splitLine:{show:false},
    axisLine:{show:true,onZero:false,lineStyle:{color:o.lineColor||'#bdbdbd',width:o.lineWidth||1}},
    axisTick:{show:true,inside:true,length:o.tickLen||6,customValues:ticks,lineStyle:{color:o.tickColor||'#bdbdbd',width:1}},
    axisLabel:o.labels?{show:true,customValues:o.labels,margin:o.margin||6,fontFamily:FONT,fontSize:o.fontSize||13,color:'#1a1a1a',formatter:o.formatter||(v=>String(v))}:{show:false},
    inverse:!!o.inverse,z:o.z||6,silent:true},
    o.name?{name:o.name,nameLocation:'middle',nameGap:o.nameGap,nameTextStyle:{fontFamily:FONT,fontSize:o.nameSize||17,color:'#1a1a1a'}}:{});
}
const xAxes=[
 axis(0,'bottom',0,256.2,freqTicks,{labels:freqTicks.slice(0,4),lineColor:'#222',lineWidth:2.5,tickLen:9,fontSize:17,margin:10,name:'frequencies (Hz)',nameGap:43,nameSize:18}),
 axis(0,'top',0,256.2,freqTicks,{tickLen:9}),
 {type:'category',gridIndex:1,data:cats(trials),show:false},
 axis(1,'bottom',0.5,118.5,trialTicks,{lineColor:'#8c8c8c',tickColor:'#2a2a55',tickLen:5}),
 axis(1,'top',0.5,118.5,trialTicks,{lineColor:'#8c8c8c',tickColor:'#2a2a55',tickLen:5}),
 axis(2,'bottom',0,39,sideVarTicks,{lineColor:'#aaa',tickLen:5}),
 axis(2,'top',0,39,sideVarTicks,{lineColor:'#aaa',tickLen:5}),
 axis(3,'bottom',0.5,118.5,trialTicks,{lineColor:'#aaa',tickLen:4,labels:trialLabels,fontSize:12,margin:7}),
 axis(3,'top',0.5,118.5,trialTicks,{lineColor:'#aaa',tickLen:4})
];
const yAxes=[
 axis(0,'left',-158.75,-46.7,powerTicks,{labels:powerLabels,lineColor:'#222',lineWidth:2.5,tickLen:9,fontSize:17,margin:16,formatter:v=>'- '+Math.abs(v),name:'log power (dB)',nameGap:65,nameSize:19}),
 axis(0,'right',-158.75,-46.7,powerTicks,{tickLen:9}),
 {type:'category',gridIndex:1,data:cats(heatRows.length),inverse:true,show:false},
 axis(1,'left',0,218,channelTicks,{inverse:true,lineColor:'#8c8c8c',tickColor:'#55557a',tickLen:7,labels:channelLabelTicks,margin:5,fontSize:12,
   formatter:v=>channelLabelText[channelLabelTicks.indexOf(v)],name:'channel #',nameGap:45,nameSize:17.5}),
 axis(1,'right',0,218,channelTicks,{inverse:true,lineColor:'#8c8c8c',tickColor:'#55557a',tickLen:7}),
 axis(2,'left',0,218,channelTicks,{inverse:true,lineColor:'#aaa',tickLen:5}),
 axis(2,'right',0,218,channelTicks,{inverse:true,lineColor:'#aaa',tickLen:5}),
 axis(3,'left',0,39.7,bottomVarTicks,{lineColor:'#aaa',tickLen:7}),
 axis(3,'right',0,39.7,bottomVarTicks,{lineColor:'#aaa',tickLen:7})
];
function bandSeries(hi,lo,color,z){
  const d=freqGrid.map((f,i)=>[f,hi[i],lo[i]]);
  return {type:'custom',xAxisIndex:0,yAxisIndex:0,z,silent:true,clip:true,data:d,encode:{x:0,y:[1,2]},
    renderItem:(p,api)=>{
      if(p.dataIndex!==0)return null;
      const top=d.map(r=>api.coord([r[0],r[1]])),bot=d.map(r=>api.coord([r[0],r[2]])).reverse();
      return {type:'polygon',shape:{points:top.concat(bot)},style:{fill:color}};}};
}
function grayLine(vals,z,color,w,op,fr){const f=fr||freqGrid;
  return {type:'line',xAxisIndex:0,yAxisIndex:0,z,silent:true,symbol:'none',animation:false,
    data:vals.map((v,i)=>[f[i],v]),lineStyle:{color,width:w,opacity:op}};}
function boxes(list,xi,yi){
  return {type:'custom',xAxisIndex:xi,yAxisIndex:yi,z:9,silent:true,clip:false,data:list,encode:{x:[0,1],y:[2,3]},
    renderItem:(p,api)=>{const a=api.coord([api.value(0),api.value(2)]),b=api.coord([api.value(1),api.value(3)]);
      return {type:'rect',shape:{x:Math.min(a[0],b[0]),y:Math.min(a[1],b[1]),width:Math.abs(a[0]-b[0]),height:Math.abs(a[1]-b[1])},
        style:{fill:'none',stroke:list[p.dataIndex][4],lineWidth:2.8}};}};
}
const series=[
 grayLine(topStart1,2,'#666',.9,.85),grayLine(topStart2,2,'#666',.9,.85),
 grayLine(lowStart1,2,'#666',.9,.85),grayLine(lowStart2,2,'#555',.9,.85),
 grayLine(topFine1,2,'#a8a8a8',.8,.9,fineFreq),grayLine(topFine2,2,'#999',.8,.9,fineFreq),
 grayLine(lowFine1,2,'#7a7a7a',.8,.9,fineFreq),grayLine(lowFine2,2,'#666',.8,.9,fineFreq),
 bandSeries(bandHigh,bandLow,'#444444',3),bandSeries(coreHigh,coreLow,'#313131',4),
 grayLine(speckle1,5,'#ffffff',.8,.5,freqGrid.slice(22)),grayLine(speckle2,5,'#ffffff',.6,.3,freqGrid.slice(22)),
 grayLine(edgeHigh,5,'#444',1,1,fineFreq),grayLine(edgeLow,5,'#444',1,1,fineFreq),
 {type:'custom',xAxisIndex:0,yAxisIndex:0,z:6,silent:true,data:notches,encode:{x:0,y:[1,2]},
  renderItem:(p,api)=>{const a=api.coord([api.value(0),api.value(1)]),b=api.coord([api.value(0),api.value(2)]);
    return {type:'line',shape:{x1:a[0],y1:a[1],x2:b[0],y2:b[1]},style:{stroke:notches[p.dataIndex][3],lineWidth:1}};}},
 {type:'line',xAxisIndex:0,yAxisIndex:0,z:7,silent:true,symbol:'none',data:redLower,lineStyle:{color:'#f01a1a',width:1.4}},
 {type:'line',xAxisIndex:0,yAxisIndex:0,z:8,silent:true,symbol:'none',data:redUpper,lineStyle:{color:'#f01a1a',width:1.4}},
 {type:'heatmap',id:'heat',xAxisIndex:2,yAxisIndex:2,z:2,silent:true,data:heatData,progressive:0,itemStyle:{borderWidth:0}},
 {type:'custom',xAxisIndex:3,yAxisIndex:3,z:4,silent:true,data:hotDashes,encode:{x:[0,1]},
  renderItem:(p,api)=>{const a=api.coord([api.value(0)-.5,hotChannel]),b=api.coord([api.value(1)+.5,hotChannel]);
    return {type:'rect',shape:{x:a[0],y:a[1]-.9,width:b[0]-a[0],height:1.8},style:{fill:heatColors[api.value(2)]}};}},
 boxes(heatBoxes,3,3),
 {type:'scatter',xAxisIndex:5,yAxisIndex:5,z:5,silent:true,symbol:'circle',symbolSize:[5.4,6.4],clip:false,
  data:channelVariance.map(d=>[d[1],d[0]]),itemStyle:{color:'#1c1c1c',opacity:1}},
 boxes(sideBox,5,5),
 {type:'scatter',xAxisIndex:7,yAxisIndex:7,z:5,silent:true,symbol:'circle',symbolSize:[6.8,5.2],clip:false,
  data:trialVariance.map((v,i)=>[i+1,v]),itemStyle:{color:'#1c1c1c',opacity:1}},
 boxes(bottomBox,7,7)
];
const heatIndex=series.findIndex(s=>s.type==='heatmap');
const txt=(x,y,t,size,extra={})=>({type:'text',x,y,style:Object.assign({text:t,font:size+'px '+FONT,fill:'#1a1a1a',textAlign:'left',textVerticalAlign:'middle'},extra),silent:true,z:20});
const chart=echarts.init(document.getElementById('c'),null,{renderer:'canvas',width:1002,height:1050});
chart.setOption({animation:false,backgroundColor:'#fff',tooltip:{show:false},
 grid:[{left:140.5,top:1,width:858.5,height:432},{left:134.2,top:563.5,width:720.8,height:298.2},
       {left:871.7,top:563.5,width:130,height:298.2},{left:134.2,top:876,width:720.8,height:132.3}],
 xAxis:xAxes,yAxis:yAxes,
 visualMap:{show:false,type:'continuous',min:0,max:9,dimension:2,seriesIndex:heatIndex,inRange:{color:heatColors}},
 series,
 graphic:{elements:[
  txt(-1,26,'A.',48),txt(-1,589,'B.',48),
  txt(475,1043,'trials #',17,{textAlign:'center'}),
  txt(873,893,'variance',12),
  {type:'line',shape:{x1:871.5,y1:879.5,x2:910,y2:879.5},style:{stroke:'#333',lineWidth:1.6},silent:true,z:20},
  {type:'polygon',shape:{points:[[919,879.5],[906,875],[909,879.5],[906,884]]},style:{fill:'#333'},silent:true,z:20},
  {type:'line',shape:{x1:871,y1:1008,x2:871,y2:970},style:{stroke:'#333',lineWidth:1.6},silent:true,z:20},
  {type:'polygon',shape:{points:[[871,961],[866.5,974],[871,971],[875.5,974]]},style:{fill:'#333'},silent:true,z:20},
  {type:'text',x:884,y:985,rotation:Math.PI/2,style:{text:'variance',font:'12px '+FONT,fill:'#1a1a1a',textAlign:'center',textVerticalAlign:'middle'},silent:true,z:20}
 ]}
});
</script></body></html>
